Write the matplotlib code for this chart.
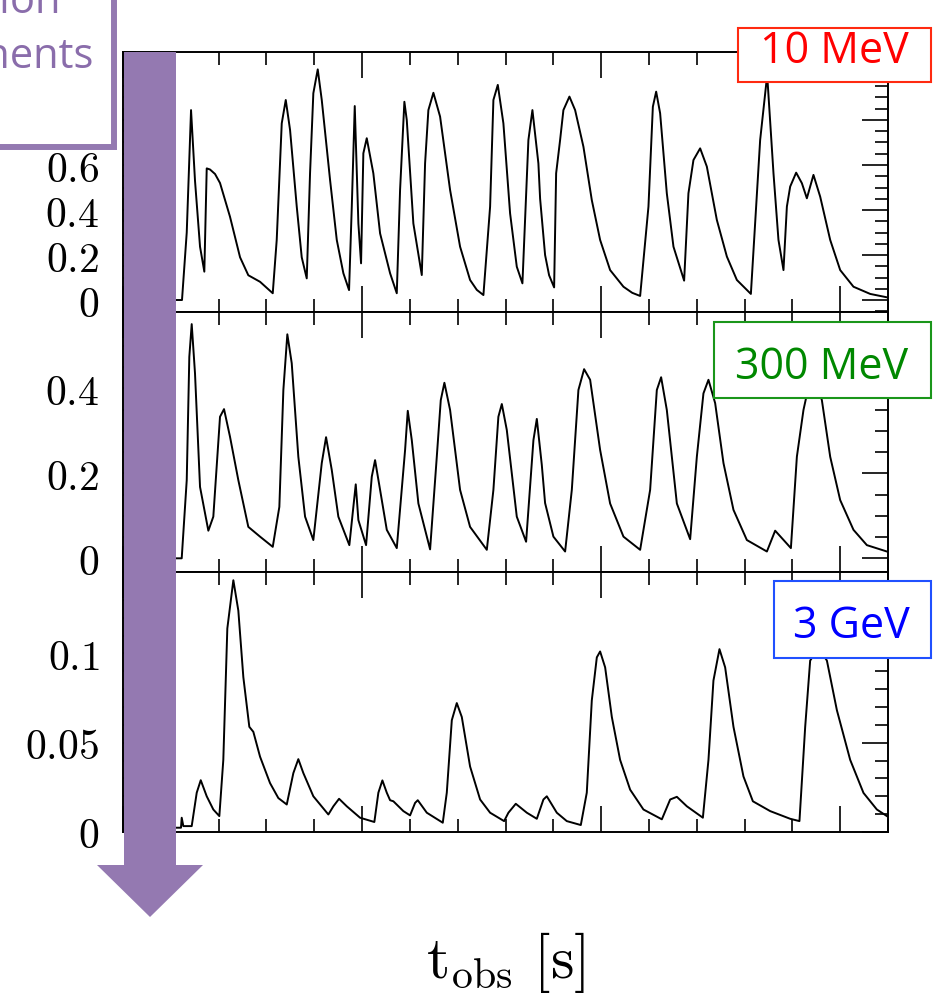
import matplotlib
matplotlib.use("Agg")
import matplotlib.pyplot as plt
from matplotlib.patches import Polygon, Rectangle
from matplotlib.ticker import MultipleLocator, FixedLocator, FixedFormatter

plt.rcParams['mathtext.fontset'] = 'cm'

# light curve, 10 MeV band
t_10mev = [1.109, 1.234, 1.333, 1.423, 1.506, 1.611, 1.701, 1.751, 1.820, 1.925,
           2.029, 2.238, 2.448, 2.621, 2.866, 3.132, 3.215, 3.320, 3.404, 3.494,
           3.634, 3.738, 3.843, 3.912, 3.981, 4.073, 4.157, 4.331, 4.471, 4.609,
           4.728, 4.785, 4.847, 4.923, 4.979, 5.027, 5.098, 5.236, 5.377, 5.586,
           5.726, 5.795, 5.885, 5.935, 6.073, 6.249, 6.318, 6.387, 6.492, 6.632,
           6.841, 7.050, 7.259, 7.400, 7.538, 7.678, 7.747, 7.839, 7.956, 8.096, 8.236,
           8.354, 8.479, 8.563, 8.688, 8.724, 8.828, 8.912, 9.017, 9.059, 9.142,
           9.211, 9.337, 9.456, 9.630, 9.805, 9.979, 10.188, 10.467, 10.650, 10.816, 10.990,
           11.082, 11.151, 11.234, 11.374, 11.513, 11.736, 11.826, 11.931, 12.071, 12.211,
           12.420, 12.630, 12.839, 13.132, 13.326, 13.473, 13.605, 13.709, 13.814, 13.885,
           13.954, 14.079, 14.199, 14.303, 14.441, 14.582, 14.791, 15.000, 15.278, 15.628,
           15.977]
f_10mev = [0.0, 0.0, 0.30, 0.844, 0.53, 0.237, 0.126, 0.585, 0.58, 0.56,
           0.52, 0.37, 0.19, 0.11, 0.081, 0.03, 0.267, 0.785, 0.889, 0.756,
           0.415, 0.19, 0.096, 0.563, 0.919, 1.025, 0.889, 0.533, 0.267, 0.119,
           0.044, 0.415, 0.862, 0.34, 0.163, 0.652, 0.719, 0.563, 0.296, 0.119,
           0.03, 0.489, 0.881, 0.80, 0.34, 0.111, 0.607, 0.844, 0.921, 0.815,
           0.489, 0.237, 0.089, 0.045, 0.022, 0.415, 0.889, 0.956, 0.785, 0.385, 0.148,
           0.074, 0.711, 0.844, 0.607, 0.45, 0.20, 0.11, 0.056, 0.563, 0.711,
           0.844, 0.904, 0.844, 0.681, 0.444, 0.267, 0.133, 0.059, 0.032, 0.018, 0.415,
           0.859, 0.926, 0.83, 0.474, 0.237, 0.086, 0.474, 0.622, 0.674, 0.593,
           0.356, 0.193, 0.089, 0.027, 0.711, 1.00, 0.563, 0.267, 0.133, 0.415,
           0.504, 0.566, 0.519, 0.452, 0.556, 0.459, 0.267, 0.133, 0.059, 0.027,
           0.012]

# light curve, 300 MeV band
t_300mev = [1.109, 1.228, 1.333, 1.387, 1.437, 1.506, 1.611, 1.785, 1.889, 2.029,
            2.113, 2.238, 2.412, 2.621, 2.866, 3.132, 3.270, 3.354, 3.437, 3.529,
            3.667, 3.808, 3.981, 4.157, 4.247, 4.366, 4.504, 4.734, 4.818, 4.868,
            4.923, 5.084, 5.203, 5.272, 5.377, 5.517, 5.726, 5.900, 5.956, 6.040,
            6.178, 6.423, 6.563, 6.646, 6.722, 6.841, 7.050, 7.259, 7.609, 7.747,
            7.851, 7.923, 8.027, 8.236, 8.431, 8.584, 8.655, 8.759, 8.828, 9.002,
            9.247, 9.387, 9.525, 9.644, 9.770, 9.979, 10.188, 10.467, 10.816, 11.025,
            11.165, 11.255, 11.374, 11.584, 11.862, 12.002, 12.140, 12.245, 12.385, 12.559,
            12.768, 13.048, 13.467, 13.640, 13.969, 14.094, 14.232, 14.331, 14.456, 14.617,
            14.791, 15.000, 15.278, 15.558, 15.977]
f_300mev = [0.0, 0.0, 0.184, 0.474, 0.551, 0.435, 0.168, 0.065, 0.098, 0.333,
            0.351, 0.286, 0.184, 0.074, 0.051, 0.027, 0.121, 0.396, 0.527, 0.459,
            0.239, 0.098, 0.043, 0.224, 0.285, 0.208, 0.098, 0.031, 0.121, 0.174,
            0.09, 0.031, 0.192, 0.231, 0.161, 0.067, 0.024, 0.255, 0.347, 0.278,
            0.129, 0.021, 0.239, 0.372, 0.413, 0.349, 0.161, 0.074, 0.02, 0.161,
            0.333, 0.363, 0.302, 0.098, 0.039, 0.278, 0.328, 0.22, 0.13, 0.051,
            0.016, 0.161, 0.396, 0.445, 0.42, 0.255, 0.129, 0.051, 0.02, 0.161,
            0.396, 0.426, 0.349, 0.129, 0.045, 0.239, 0.388, 0.42, 0.365, 0.224,
            0.114, 0.043, 0.016, 0.065, 0.024, 0.239, 0.349, 0.40, 0.43, 0.372,
            0.239, 0.137, 0.067, 0.031, 0.016]

# light curve, 3 GeV band
t_3gev = [1.109, 1.213, 1.228, 1.262, 1.437, 1.542, 1.626, 1.751, 1.889, 2.015,
          2.098, 2.182, 2.308, 2.412, 2.517, 2.642, 2.726, 2.866, 3.075, 3.249,
          3.425, 3.563, 3.667, 3.772, 3.981, 4.295, 4.400, 4.519, 4.680, 4.958,
          5.257, 5.341, 5.425, 5.517, 5.586, 5.655, 5.864, 6.004, 6.109, 6.165,
          6.354, 6.688, 6.772, 6.877, 6.981, 7.086, 7.259, 7.469, 7.678, 7.971,
          8.061, 8.215, 8.446, 8.655, 8.793, 8.864, 9.073, 9.282, 9.575, 9.700,
          9.805, 9.910, 9.979, 10.084, 10.224, 10.397, 10.607, 10.885, 11.270, 11.444,
          11.584, 11.793, 12.128, 12.245, 12.349, 12.475, 12.594, 12.768, 12.977, 13.174,
          13.536, 13.954, 14.148, 14.268, 14.372, 14.546, 14.722, 14.931, 15.209, 15.487,
          15.767, 15.977]
f_3gev = [0.0024, 0.0024, 0.008, 0.0033, 0.0033, 0.022, 0.029, 0.020, 0.0126, 0.0089,
          0.0404, 0.114, 0.141, 0.124, 0.0867, 0.0589, 0.0561, 0.0422, 0.0274, 0.019,
          0.0154, 0.033, 0.0408, 0.033, 0.020, 0.0098, 0.0144, 0.0186, 0.0144, 0.008,
          0.0056, 0.022, 0.0289, 0.022, 0.0178, 0.0172, 0.0117, 0.0093, 0.0163, 0.0178,
          0.0108, 0.0052, 0.022, 0.0626, 0.0722, 0.0644, 0.0367, 0.0182, 0.0108, 0.0061,
          0.0108, 0.0158, 0.0108, 0.0074, 0.0182, 0.020, 0.0108, 0.0061, 0.0039, 0.022,
          0.0737, 0.0978, 0.1011, 0.0922, 0.0644, 0.0404, 0.0237, 0.0126, 0.0071, 0.0182,
          0.0197, 0.0144, 0.008, 0.0404, 0.0848, 0.1024, 0.0922, 0.0589, 0.0311, 0.0172,
          0.0117, 0.0074, 0.0061, 0.0589, 0.096, 0.103, 0.096, 0.0682, 0.0404, 0.0219,
          0.0126, 0.0089]

bands = ['10 MeV', '300 MeV', '3 GeV']
band_colors = ['#ff0000', '#008800', '#0000ff']
band_edges = ['#ff2a10', '#1a961a', '#2050ff']
curves = [(t_10mev, f_10mev), (t_300mev, f_300mev), (t_3gev, f_3gev)]

# 0.8 and 1 sit under the caption box, so they carry no label
yticks = [[0, 0.2, 0.4, 0.6, 0.8, 1.0], [0, 0.2, 0.4], [0, 0.05, 0.1]]
ytick_labels = [['0', '0.2', '0.4', '0.6', '', ''],
                ['0', '0.2', '0.4'],
                ['0', '0.05', '0.1']]
yminor = [0.05, 0.05, 0.01]
ylims = [(-0.0533, 1.1022), (-0.0322, 0.5795), (0.0, 0.1456)]

purple = '#9479b1'
purple_text = '#8a6dab'

W, H = 938, 1000
fig = plt.figure(figsize=(W / 100, H / 100), dpi=100)


def fx(px):
    return px / W


def fy(py):
    return 1 - py / H


for i in range(3):
    top = 52 + 260 * i
    ax = fig.add_axes([fx(123), fy(top + 260), fx(888) - fx(123), 260 / H])
    t, f = curves[i]
    ax.plot(t, f, color='black', lw=1.4)
    ax.set_xlim(0, 16)
    ax.set_ylim(*ylims[i])
    ax.xaxis.set_major_locator(MultipleLocator(5))
    ax.xaxis.set_minor_locator(MultipleLocator(1))
    ax.yaxis.set_major_locator(FixedLocator(yticks[i]))
    ax.yaxis.set_major_formatter(FixedFormatter(
        ['$%s$' % s if s else '' for s in ytick_labels[i]]))
    ax.yaxis.set_minor_locator(MultipleLocator(yminor[i]))
    ax.tick_params(which='both', direction='in', top=True, bottom=True,
                   left=True, right=True, labelbottom=False, width=1.2)
    ax.tick_params(which='major', length=19)
    ax.tick_params(which='minor', length=9.5)
    ax.tick_params(axis='y', labelsize=30, pad=17)
    for sp in ax.spines.values():
        sp.set_linewidth(1.4)

    # energy band tag
    x0, x1 = [(738, 931), (714, 931), (774, 931)][i]
    y0, y1 = [(28, 82), (322, 398), (581, 658)][i]
    fig.add_artist(Rectangle((fx(x0), fy(y1)), fx(x1) - fx(x0), (y1 - y0) / H,
                             transform=fig.transFigure, facecolor='white',
                             edgecolor=band_edges[i], lw=1.5, zorder=10))
    tx = [834, 821.5, 851.5][i]
    ty = [63, 379, 638][i]
    fig.text(fx(tx), fy(ty), bands[i], color=band_colors[i], fontsize=31,
             family='Open Sans', ha='center', va='baseline', zorder=11)

# x axis title
fig.text(fx(506), fy(978), r'$\mathrm{t}_{\mathrm{obs}}\ [\mathrm{s}]$',
         fontsize=43, ha='center', va='baseline')

# downward arrow along the energy axis
arrow = [(124, 52), (176, 52), (176, 865), (203, 865), (150, 917),
         (97, 865), (124, 865)]
fig.add_artist(Polygon([(fx(x), fy(y)) for x, y in arrow], closed=True,
                       transform=fig.transFigure, facecolor=purple,
                       edgecolor='none', zorder=10))

# caption box in the upper left corner
fig.add_artist(Rectangle((fx(-30), fy(146.5)), fx(144), 176.5 / H,
                         transform=fig.transFigure, facecolor='white',
                         edgecolor=purple, lw=4.3, zorder=12))
fig.text(fx(61), fy(13), 'emission', color=purple_text, fontsize=30,
         family='Open Sans', ha='right', va='baseline', zorder=13)
fig.text(fx(94), fy(68), 'components', color=purple_text, fontsize=30,
         family='Open Sans', ha='right', va='baseline', zorder=13)

fig.savefig('out.png', dpi=100)
